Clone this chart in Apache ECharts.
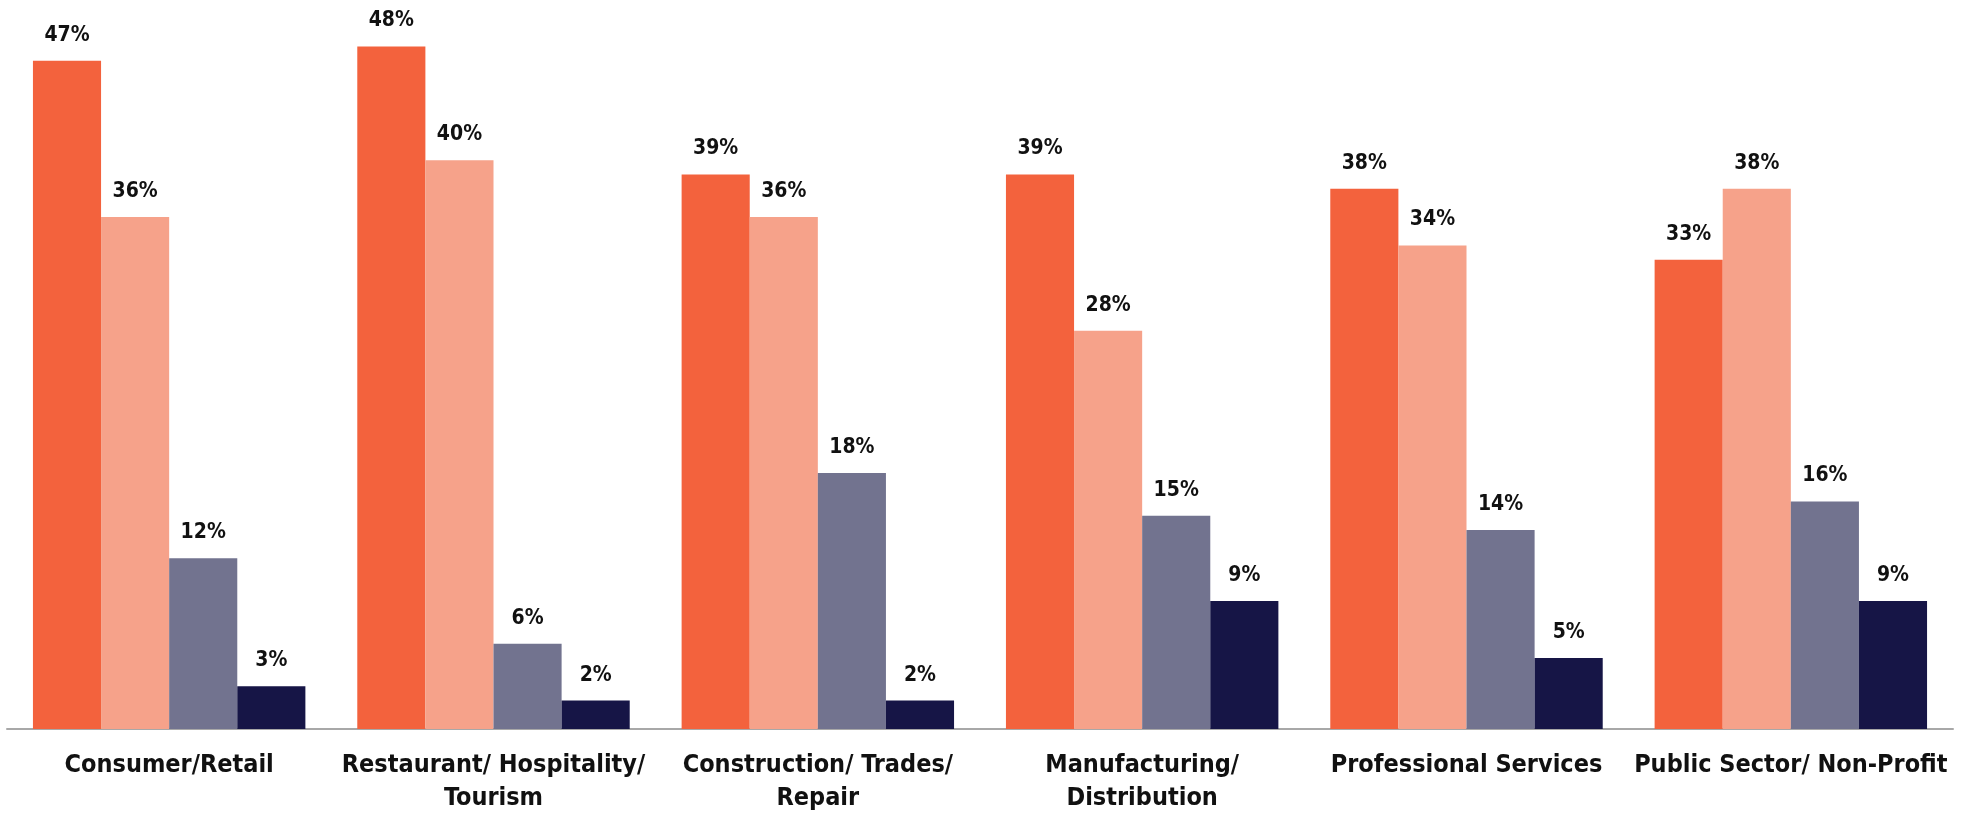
<!DOCTYPE html>
<html>
<head>
<meta charset="utf-8">
<script src="https://cdn.jsdelivr.net/npm/echarts@6/dist/echarts.min.js"></script>
<style>
  html, body { margin: 0; padding: 0; background: #ffffff; }
  #chart { width: 1979px; height: 815px; }
</style>
</head>
<body>
<div id="chart"></div>
<script>
// Industry groups along the x axis
const categories = [
  'Consumer/Retail',
  'Restaurant/ Hospitality/\nTourism',
  'Construction/ Trades/\nRepair',
  'Manufacturing/\nDistribution',
  'Professional Services',
  'Public Sector/ Non-Profit'
];

// Four response series, values in percent
const seriesA = [47, 48, 39, 39, 38, 33];
const seriesB = [36, 40, 36, 28, 34, 38];
const seriesC = [12, 6, 18, 15, 14, 16];
const seriesD = [3, 2, 2, 9, 5, 9];

const colors = ['#F3623D', '#F6A28A', '#72738F', '#161546'];
const labelFont = '"DejaVu Sans Condensed", "DejaVu Sans", sans-serif';

function barSeries(data, color) {
  return {
    type: 'bar',
    data: data,
    barGap: '0%',
    barCategoryGap: '16%',
    itemStyle: { color: color },
    label: {
      show: true,
      position: 'top',
      distance: 15,
      formatter: '{c}%',
      color: '#111111',
      fontFamily: labelFont,
      fontWeight: 'bold',
      fontSize: 21
    }
  };
}

const chart = echarts.init(document.getElementById('chart'), null, { renderer: 'canvas' });
chart.setOption({
  animation: false,
  grid: { left: 7, right: 26, top: 18, bottom: 86, containLabel: false },
  xAxis: {
    type: 'category',
    data: categories,
    axisLine: { show: true, lineStyle: { color: '#A8A8A8', width: 2 } },
    axisTick: { show: false },
    axisLabel: {
      color: '#111111',
      fontFamily: labelFont,
      fontWeight: 'bold',
      fontSize: 25,
      lineHeight: 33,
      margin: 20,
      interval: 0
    }
  },
  yAxis: {
    type: 'value',
    min: 0,
    max: 50,
    show: false,
    splitLine: { show: false }
  },
  series: [
    barSeries(seriesA, colors[0]),
    barSeries(seriesB, colors[1]),
    barSeries(seriesC, colors[2]),
    barSeries(seriesD, colors[3])
  ]
});
</script>
</body>
</html>
